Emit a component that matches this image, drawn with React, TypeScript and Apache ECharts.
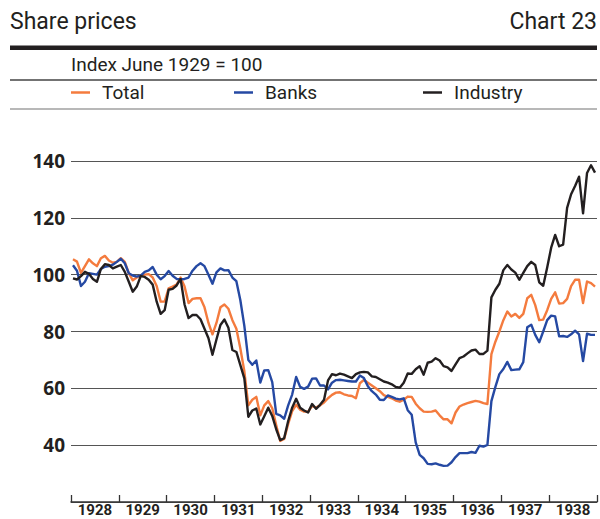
import React, { useEffect, useRef } from "react";
import * as echarts from "echarts";

const years = ["1928", "1929", "1930", "1931", "1932", "1933", "1934", "1935", "1936", "1937", "1938"];
const yTicks = [40, 60, 80, 100, 120, 140];

// Monthly values, Jan 1928 - Dec 1938 (index June 1929 = 100)
const total = [
  105.4, 104.6, 100.6, 103, 105.4, 104, 103, 105.8, 106.6, 105, 104.2, 104.5,
  105.8, 104.5, 100.5, 98, 99, 99.8, 100, 100.2, 99, 96, 90.5, 90.5,
  95.2, 95.8, 96.5, 99, 95.8, 90, 91.5, 91.7, 91.7, 88.5, 83, 79,
  83, 88.5, 89.5, 88, 84, 81, 74, 66, 54, 56, 57, 50.5,
  54, 55.5, 53, 47, 41.5, 42.2, 47.5, 52, 54.2, 52.5, 51.8, 51.8,
  53.8, 53.2, 54, 55, 56.5, 57.7, 58.5, 58.6, 57.9, 57.5, 57.3, 56.5,
  61.8, 63, 62, 61, 60, 59, 57.6, 57, 56.5, 55.7, 55.3, 56,
  57.1, 57, 54.6, 53, 51.8, 51.7, 51.8, 52.2, 50.5, 49.1, 49.1, 47.7,
  51.5, 53.6, 54.3, 54.8, 55.2, 55.6, 55.3, 54.8, 54.5, 72, 76.4, 80,
  84, 87, 85.3, 86.2, 84.8, 86.2, 91.7, 92.9, 89.3, 84, 84.2, 87.5,
  91.5, 93.8, 89.8, 90, 91.5, 96, 98.2, 98.2, 90, 97.6, 97, 95.8,
];

const banks = [
  103.3, 101.4, 96, 97.5, 100.5, 100.3, 100, 102, 102.8, 103, 103.5, 104.5,
  105.6, 104, 100.5, 99.7, 99.3, 99.7, 101, 101.5, 102.7, 100, 98.4, 99.5,
  101.3, 99.6, 98.5, 98.4, 98.5, 99, 101.4, 103, 104, 103, 100, 96.8,
  100.8, 102.2, 101.5, 101.6, 99, 97.7, 91, 82, 70, 68.3, 69.8, 62,
  66.3, 66.4, 62.2, 51, 50.5, 49.3, 54, 57.8, 64, 60.5, 59.8, 60.6,
  63.4, 63.5, 61, 61, 59.6, 62, 62.9, 63, 62.8, 62.6, 62.4, 62.4,
  64.5, 63.6, 60.7, 59, 57.8, 56, 55.9, 57.5, 57, 56.4, 56.1, 56.5,
  52.3, 50.7, 41, 36.6, 35.4, 33.4, 33.3, 33.6, 33.1, 32.7, 32.8, 34,
  35.8, 37.2, 37.2, 37.2, 37.6, 37.3, 39.8, 39.5, 40.1, 55.5, 60.5, 65,
  66.8, 69.3, 66.4, 66.6, 66.7, 69.2, 81.5, 82.4, 78.8, 76.2, 80, 84,
  85.6, 85.3, 78.3, 78.4, 78.1, 79, 80.3, 79, 69.6, 79.2, 78.8, 78.8,
];

const industry = [
  98.7, 98.3, 99.5, 101, 100.3, 98.5, 97.5, 102, 103.7, 103.4, 102.2, 102.8,
  103.4, 101, 97.5, 94, 95.8, 99.5, 99.2, 98.2, 96.5, 90.5, 86.2, 87.5,
  94.7, 95, 96.2, 98.5, 89.5, 84.7, 85.8, 85.8, 84.3, 81, 77.6, 71.8,
  77.2, 82.3, 84.2, 81.3, 73.5, 72.8, 68.2, 63.5, 50, 52.2, 52.9, 47.3,
  50.2, 53.2, 50.3, 45.6, 41.8, 42.5, 48.5, 53.2, 56.3, 53.2, 52.2, 51.5,
  54.5, 52.8, 54.2, 56, 62.8, 65, 64.6, 65.2, 64.8, 64.2, 63.6, 65,
  65.6, 65.8, 65.6, 64.2, 64, 63.2, 62.4, 62, 61.4, 60.5, 60.2, 62,
  65.2, 65.1, 66.7, 67.8, 64.8, 69, 69.4, 70.6, 69.8, 67.8, 67.4, 66.1,
  68.4, 70.6, 71.2, 72.3, 73.3, 73.6, 72.1, 72.1, 73.3, 92, 94.7, 96.8,
  101.6, 103.4, 101.8, 100.7, 98.2, 100.6, 103, 104.5, 103.4, 97.3, 96.1, 102.5,
  109.5, 114, 110, 110.6, 123.5, 128.3, 131.2, 134.5, 121.6, 135.8, 138.5, 135.9,
];

const seriesNames = ["Total", "Banks", "Industry"];
const seriesColors = ["#f47b3e", "#2549a3", "#231f20"];

const toPoints = (arr: number[]) => arr.map((v, i) => [i + 0.5, v]);

export default function App() {
  const ref = useRef<HTMLDivElement>(null);
  useEffect(() => {
    if (!ref.current) return;
    const chart = echarts.init(ref.current, null, { renderer: "svg" });
    const ink = "#231f20";
    const headFont = "Roboto";
    const legendLefts = [71, 234, 423];
    chart.setOption({
      animation: false,
      backgroundColor: "#ffffff",
      grid: {
        left: 71,
        right: 3,
        top: 161,
        bottom: 17,
        containLabel: false,
        outerBoundsMode: "none",
      },
      legend: seriesNames.map((name, i) => ({
        data: [name],
        left: legendLefts[i],
        top: 83,
        icon: "rect",
        itemWidth: 19,
        itemHeight: 2.5,
        padding: 0,
        selectedMode: false,
        textStyle: {
          fontFamily: headFont,
          fontSize: 19,
          color: ink,
          padding: [0, 0, 0, 7],
        },
      })),
      graphic: [
        {
          type: "text",
          left: 10,
          top: 10,
          style: { text: "Share prices", fontFamily: headFont, fontSize: 23, fill: ink },
        },
        {
          type: "text",
          right: 3,
          top: 10,
          style: { text: "Chart 23", fontFamily: headFont, fontSize: 23, fill: ink },
        },
        {
          type: "rect",
          shape: { x: 10, y: 45.5, width: 587, height: 4.5 },
          style: { fill: ink },
        },
        {
          type: "text",
          left: 71,
          top: 55,
          style: { text: "Index June 1929 = 100", fontFamily: headFont, fontSize: 19, fill: ink },
        },
        {
          type: "line",
          shape: { x1: 10, y1: 80, x2: 597, y2: 80 },
          style: { stroke: "#444", lineWidth: 1.3 },
        },
        {
          type: "line",
          shape: { x1: 10, y1: 109, x2: 597, y2: 109 },
          style: { stroke: "#a0a0a0", lineWidth: 1.3 },
        },
      ],
      xAxis: [
        {
          type: "value",
          min: 0,
          max: 132,
          show: false,
        },
        {
          type: "category",
          data: years,
          position: "bottom",
          boundaryGap: true,
          axisLine: { show: true, lineStyle: { color: "#333", width: 1.5 } },
          axisTick: {
            show: true,
            inside: true,
            length: 7,
            interval: 0,
            alignWithLabel: false,
            lineStyle: { color: "#333", width: 1.3 },
          },
          axisLabel: {
            interval: 0,
            margin: 2,
            fontFamily: "Roboto",
            fontWeight: "bold",
            fontSize: 15,
            lineHeight: 12,
            color: ink,
          },
          splitLine: { show: false },
        },
      ],
      yAxis: {
        type: "value",
        min: 20,
        max: 140,
        interval: 20,
        axisLine: { show: false },
        axisTick: { show: false },
        axisLabel: {
          margin: 6,
          fontFamily: "Open Sans",
          fontWeight: "bold",
          fontSize: 19,
          color: ink,
          formatter: (v: number) => (yTicks.includes(v) ? String(v) : ""),
        },
        splitLine: {
          show: true,
          lineStyle: { color: "#555", width: 1.2 },
        },
      },
      series: [total, banks, industry].map((arr, i) => ({
        name: seriesNames[i],
        type: "line",
        xAxisIndex: 0,
        data: toPoints(arr),
        showSymbol: false,
        symbol: "none",
        color: seriesColors[i],
        lineStyle: { color: seriesColors[i], width: 2.4, join: "round" },
        z: 3 + i,
      })),
    });
    return () => chart.dispose();
  }, []);
  return (
    <div
      ref={ref}
      style={{ position: "fixed", left: 0, top: 0, width: 600, height: 519, background: "#fff" }}
    />
  );
}
